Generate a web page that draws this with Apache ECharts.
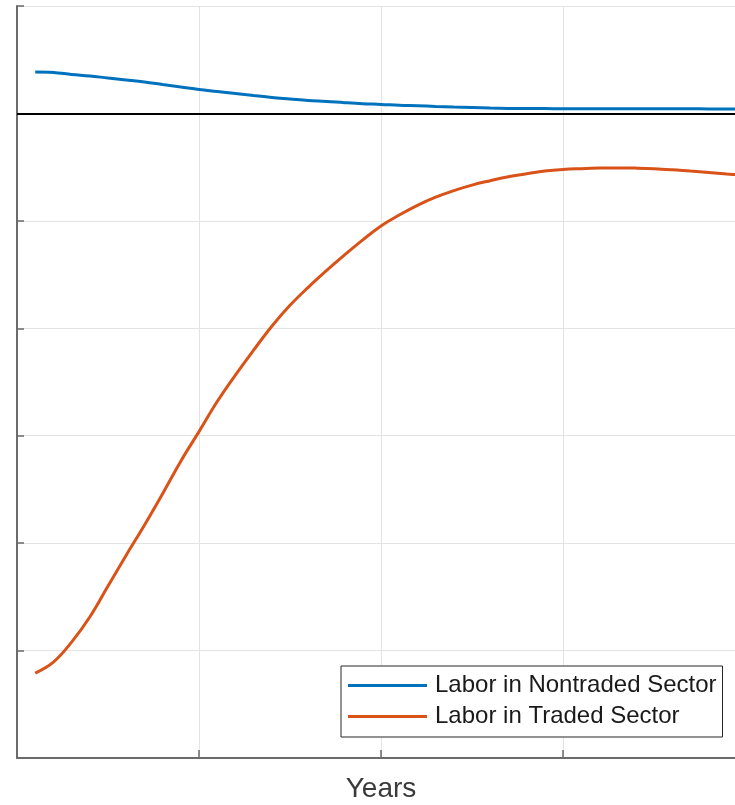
<!DOCTYPE html>
<html>
<head>
<meta charset="utf-8">
<script src="https://cdn.jsdelivr.net/npm/echarts@6/dist/echarts.min.js"></script>
<style>
  html, body { margin: 0; padding: 0; background: #fff; }
  #chart { width: 735px; height: 805px; }
</style>
</head>
<body>
<div id="chart"></div>
<script>
// years after the shock
var years = [1, 2, 3, 4, 5, 6, 7, 8, 9, 10,
             11, 12, 13, 14, 15, 16, 17, 18, 19, 20,
             21, 22, 23, 24, 25, 26, 27, 28, 29, 30,
             31, 32, 33, 34, 35, 36, 37, 38, 39, 40];

// labor in nontraded sector (deviation)
var nontraded = [0.385, 0.381, 0.363, 0.349, 0.330, 0.312, 0.293, 0.270, 0.247, 0.223,
                 0.205, 0.186, 0.167, 0.149, 0.135, 0.121, 0.112, 0.100, 0.090, 0.084,
                 0.076, 0.071, 0.065, 0.060, 0.056, 0.051, 0.047, 0.045, 0.045, 0.044,
                 0.044, 0.044, 0.043, 0.043, 0.043, 0.043, 0.043, 0.042, 0.042, 0.042];

// labor in traded sector (deviation)
var traded = [-5.209, -5.107, -4.921, -4.688, -4.400, -4.112, -3.833, -3.540, -3.237, -2.962,
              -2.682, -2.435, -2.204, -1.981, -1.786, -1.619, -1.464, -1.317, -1.177, -1.047,
              -0.946, -0.856, -0.780, -0.718, -0.667, -0.626, -0.589, -0.562, -0.536, -0.521,
              -0.514, -0.509, -0.507, -0.509, -0.514, -0.524, -0.537, -0.549, -0.563, -0.577];

var seriesNames = ['Labor in Nontraded Sector', 'Labor in Traded Sector'];

function pairs(xs, ys) {
  var out = [];
  for (var i = 0; i < xs.length; i++) {
    out.push([xs[i], ys[i]]);
  }
  return out;
}

var myChart = echarts.init(document.getElementById('chart'));

var axisColor = '#6b6b6b';
var gridColor = '#e3e3e3';

var option = {
  animation: false,
  backgroundColor: '#fff',
  textStyle: { fontFamily: 'Liberation Sans, Arial, sans-serif' },
  grid: {
    left: 17,
    top: 6,
    right: -10,
    bottom: 47,
    outerBoundsMode: 'none',
    containLabel: false
  },
  legend: {
    orient: 'vertical',
    left: 341,
    top: 666,
    padding: [6, 6, 7, 7],
    itemGap: 4,
    itemWidth: 79,
    itemHeight: 3,
    icon: 'rect',
    borderColor: '#262626',
    borderWidth: 1,
    backgroundColor: '#fff',
    data: seriesNames,
    textStyle: {
      fontSize: 24,
      lineHeight: 27,
      color: '#1a1a1a',
      padding: [0, 0, 0, 3]
    }
  },
  xAxis: {
    type: 'value',
    min: 0,
    max: 40,
    interval: 10,
    name: 'Years',
    nameLocation: 'middle',
    nameGap: 17,
    nameTextStyle: { fontSize: 28, color: '#3a3a3a' },
    axisLine: { onZero: false, lineStyle: { color: axisColor, width: 2 } },
    axisTick: { inside: true, length: 8, lineStyle: { color: axisColor, width: 1.5 } },
    axisLabel: { show: false },
    splitLine: { show: true, lineStyle: { color: gridColor, width: 1 } }
  },
  yAxis: {
    type: 'value',
    min: -6,
    max: 1,
    interval: 1,
    axisLine: { show: true, onZero: false, lineStyle: { color: axisColor, width: 2 } },
    axisTick: { show: true, inside: true, length: 7, lineStyle: { color: axisColor, width: 1.5 } },
    axisLabel: { show: false },
    splitLine: { show: true, lineStyle: { color: gridColor, width: 1 } }
  },
  series: [
    {
      name: seriesNames[0],
      type: 'line',
      showSymbol: false,
      smooth: 0.4,
      color: '#0072BD',
      lineStyle: { width: 3, color: '#0072BD' },
      data: pairs(years, nontraded),
      markLine: {
        silent: true,
        symbol: ['none', 'none'],
        label: { show: false },
        lineStyle: { color: '#000', width: 2, type: 'solid' },
        data: [{ yAxis: 0 }]
      },
      z: 3
    },
    {
      name: seriesNames[1],
      type: 'line',
      showSymbol: false,
      smooth: 0.4,
      color: '#D95319',
      lineStyle: { width: 3, color: '#D95319' },
      data: pairs(years, traded),
      z: 3
    }
  ]
};

myChart.setOption(option);
window.addEventListener('resize', function() {
  myChart.resize();
});
</script>
</body>
</html>
